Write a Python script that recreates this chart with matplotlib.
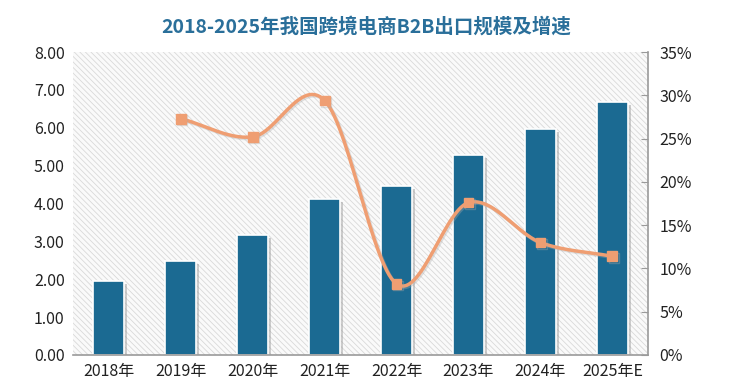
import numpy as np
import matplotlib.pyplot as plt
from matplotlib.patches import Rectangle
import matplotlib.patheffects as pe

plt.rcParams['font.family'] = ['Noto Sans CJK SC', 'DejaVu Sans']
plt.rcParams['hatch.linewidth'] = 0.6

years = ['2018年', '2019年', '2020年', '2021年', '2022年', '2023年', '2024年', '2025年E']
scale = [1.95, 2.48, 3.17, 4.12, 4.46, 5.28, 5.96, 6.68]      # 万亿元
growth = [None, 27.3, 25.2, 29.4, 8.2, 17.6, 13.0, 11.4]       # %


def smooth(xs, ys, n=30):
    # Excel 风格的平滑线 (Catmull-Rom)
    xs = np.asarray(xs, float)
    ys = np.asarray(ys, float)
    px = np.concatenate([[2 * xs[0] - xs[1]], xs, [2 * xs[-1] - xs[-2]]])
    py = np.concatenate([[2 * ys[0] - ys[1]], ys, [2 * ys[-1] - ys[-2]]])
    out_x, out_y = [], []
    t = np.linspace(0, 1, n)
    for i in range(1, len(px) - 2):
        for p, out in ((px, out_x), (py, out_y)):
            p0, p1, p2, p3 = p[i - 1], p[i], p[i + 1], p[i + 2]
            out.extend(0.5 * (2 * p1 + (-p0 + p2) * t
                              + (2 * p0 - 5 * p1 + 4 * p2 - p3) * t ** 2
                              + (-p0 + 3 * p1 - 3 * p2 + p3) * t ** 3))
    return out_x, out_y


fig = plt.figure(figsize=(7.35, 3.87), dpi=100)
ax = fig.add_axes([0.0993, 0.0827, 0.7827, 0.7829])
x = np.arange(len(years))

# 斜线背景
ax.add_patch(Rectangle((0, 0), 1, 1, transform=ax.transAxes, facecolor='#fafafa',
                       edgecolor='#d9d9d9', hatch='\\\\\\\\\\\\', linewidth=0, zorder=0))

shadow = [pe.SimplePatchShadow(offset=(2, -2), shadow_rgbFace='#a0a0a0', alpha=0.5), pe.Normal()]
bars = ax.bar(x, scale, width=0.43, color='#1b6a92', edgecolor='white', linewidth=1.2, zorder=2)
for b in bars:
    b.set_path_effects(shadow)

ax.set_xlim(-0.5, len(years) - 0.5)
ax.set_ylim(0, 8)
ax.set_yticks(np.arange(0, 8.01, 1))
ax.set_yticklabels([f'{v:.2f}' for v in np.arange(0, 8.01, 1)], fontsize=11.5, color='#222222')
ax.set_xticks(x)
ax.set_xticklabels(years, fontsize=11.5, color='#222222')
ax.tick_params(axis='both', length=0, pad=6)
for s in ['top', 'right', 'left']:
    ax.spines[s].set_visible(False)
ax.spines['bottom'].set_color('#9a9a9a')
ax.spines['bottom'].set_linewidth(1.2)

ax2 = ax.twinx()
gx = [i for i, g in enumerate(growth) if g is not None]
gy = [g for g in growth if g is not None]
sx, sy = smooth(gx, gy)
line_fx = [pe.SimpleLineShadow(offset=(1, -1), shadow_color='#aaaaaa', alpha=0.35), pe.Normal()]
ax2.plot(sx, sy, color='#ef9e72', linewidth=2.5, zorder=3, path_effects=line_fx)
ax2.plot(gx, gy, linestyle='none', marker='s', markersize=7, color='#ef9e72', zorder=4,
         path_effects=line_fx)
ax2.set_ylim(0, 35)
ax2.set_yticks(np.arange(0, 36, 5))
ax2.set_yticklabels([f'{v}%' for v in range(0, 36, 5)], fontsize=11.5, color='#222222')
ax2.tick_params(axis='y', length=5, color='#9a9a9a', direction='in', pad=8)
for s in ['top', 'left', 'bottom']:
    ax2.spines[s].set_visible(False)
ax2.spines['right'].set_color('#9a9a9a')
ax2.spines['right'].set_linewidth(1.2)

fig.text(0.498, 0.93, '2018-2025年我国跨境电商B2B出口规模及增速', ha='center', va='center',
         fontsize=14, fontweight='bold', color='#2a6f9a')

fig.savefig('out.png', dpi=100)
